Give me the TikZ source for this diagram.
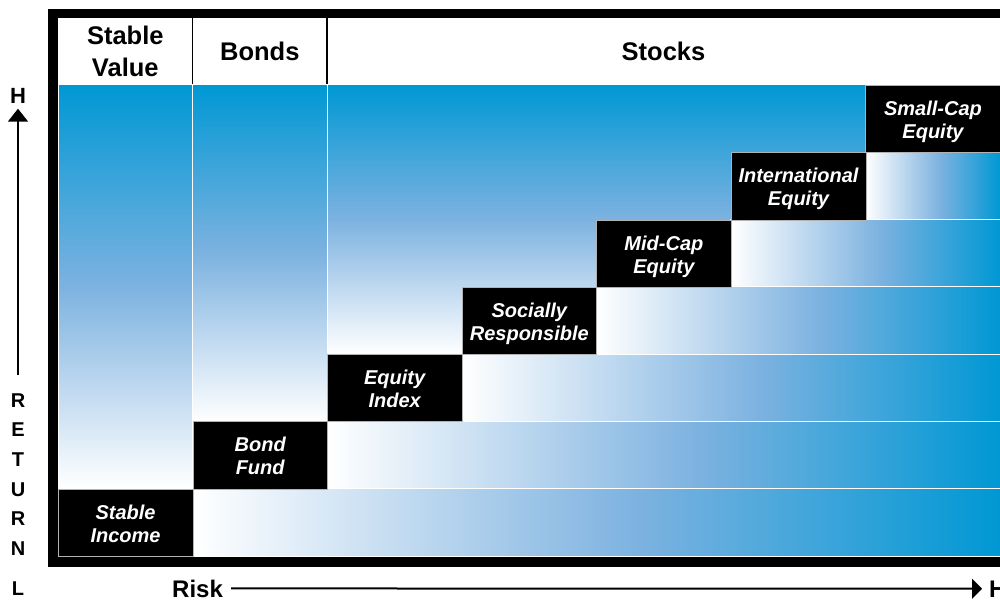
\documentclass[tikz,border=0pt]{standalone}
\usepackage{fontspec}
\setmainfont{Liberation Sans}
\usetikzlibrary{arrows.meta}
\definecolor{topb}{RGB}{0,152,212}
\definecolor{midb}{RGB}{125,178,224}
\pgfdeclareverticalshading{vgrad}{100bp}{color(0bp)=(white); color(25bp)=(white); color(50bp)=(midb); color(75bp)=(topb); color(100bp)=(topb)}
\pgfdeclarehorizontalshading{hgrad}{100bp}{color(0bp)=(white); color(25bp)=(white); color(52.5bp)=(midb); color(75bp)=(topb); color(100bp)=(topb)}
\begin{document}
\begin{tikzpicture}[x=1pt,y=-1pt,
  colv/.style={shading=vgrad, draw=white, line width=1pt},
  rowh/.style={shading=hgrad, draw=white, line width=1pt},
  stepbox/.style={fill=black, draw=gray!60, line width=0.6pt, text=white,
    font=\fontsize{20}{23}\selectfont\bfseries\itshape, align=center,
    inner sep=0pt, minimum width=134.6pt, minimum height=67.3pt, anchor=north west},
  head/.style={font=\fontsize{25.5}{32}\selectfont\bfseries, inner sep=0pt, align=center},
  axl/.style={font=\fontsize{24}{24}\selectfont\bfseries, inner sep=0pt},
  axs/.style={font=\fontsize{20}{29.6}\selectfont\bfseries, inner sep=0pt, align=center},
  axarrow/.style={line width=2pt}]
\useasboundingbox (0,0) rectangle (1000,601);
% frame
\fill[black] (48,9.5) rectangle (1010,567);
\fill[white] (58,18) rectangle (1010,557);
% header separators
\draw[line width=1.5pt] (192.6,18) -- (192.6,85);
\draw[line width=1.5pt] (327.1,18) -- (327.1,85);
% vertical gradient columns
\path[colv] (58.5,85) rectangle (192.6,488.7);
\path[colv] (192.6,85) rectangle (327.1,421.4);
\path[colv] (327.1,85) rectangle (1000,354.1);
% horizontal gradient rows
\path[rowh] (192.6,488.7) rectangle (1000,556);
\path[rowh] (327.1,421.4) rectangle (1000,488.7);
\path[rowh] (461.7,354.1) rectangle (1000,421.4);
\path[rowh] (596.3,286.9) rectangle (1000,354.1);
\path[rowh] (730.9,219.6) rectangle (1000,286.9);
\path[rowh] (865.4,152.3) rectangle (1000,219.6);
% step boxes
\node[stepbox] (si) at (58,488.7) {\rule{0pt}{21pt}Stable\\Income\rule[-5pt]{0pt}{5pt}};
\node[stepbox] (bf) at (192.6,421.4) {\rule{0pt}{21pt}Bond\\Fund\rule[-5pt]{0pt}{5pt}};
\node[stepbox] (ei) at (327.1,354.1) {\rule{0pt}{21pt}Equity\\Index\rule[-5pt]{0pt}{5pt}};
\node[stepbox] (sr) at (461.7,286.9) {\rule{0pt}{21pt}Socially\\Responsible\rule[-5pt]{0pt}{5pt}};
\node[stepbox] (mc) at (596.3,219.6) {\rule{0pt}{21pt}Mid-Cap\\Equity\rule[-5pt]{0pt}{5pt}};
\node[stepbox] (ie) at (730.9,152.3) {\rule{0pt}{21pt}International\\Equity\rule[-5pt]{0pt}{5pt}};
\node[stepbox] (sc) at (865.4,85) {\rule{0pt}{21pt}Small-Cap\\Equity\rule[-5pt]{0pt}{5pt}};
% headers
\node[head] (sv) at (125.3,51.5) {\rule{0pt}{25pt}Stable\\Value\rule[-6pt]{0pt}{6pt}};
\node[head, anchor=base] (bo) at (259.8,61) {Bonds};
\node[head, anchor=base] (st) at (663.5,61) {Stocks};
% return axis
\node[axl, font=\fontsize{22}{22}\selectfont\bfseries, anchor=base] (hh) at (18,104) {H};
\node[axs, anchor=north] (ret) at (18,391) {\rule{0pt}{16pt}R\\E\\T\\U\\R\\N};
\node[axs, anchor=base] (lo) at (18,595) {L};
\draw[axarrow, -{Triangle[width=20pt,length=13pt]}, shorten <=16pt, shorten >=4.5pt] (ret.north) -- (hh.south);
% risk axis
\node[axl, anchor=base west] (risk) at (172,597) {Risk};
\node[axl, anchor=base west] (hr) at (989,597) {H};
\draw[axarrow, -{Triangle[width=20pt,length=10pt]}, shorten <=8pt, shorten >=7pt] (risk.east) -- (hr.west);
\end{tikzpicture}
\end{document}
